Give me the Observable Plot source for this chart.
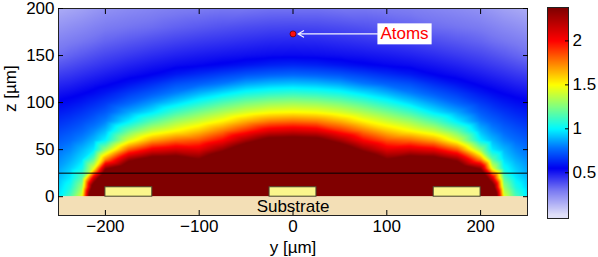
<!DOCTYPE html>
<html><head><meta charset="utf-8">
<script src="https://cdn.jsdelivr.net/npm/d3@7"></script>
<script src="https://cdn.jsdelivr.net/npm/@observablehq/plot@0.6"></script>
<style>
body{margin:0;background:#fff;}
#wrap{position:relative;width:598px;height:257px;font-family:"Liberation Sans",Arial,sans-serif;}
#main{position:absolute;left:0;top:0;}
#cbar{position:absolute;left:535px;top:0;}
</style></head><body><div id="wrap"><div id="main"></div><div id="cbar"></div></div>
<script>
// ---- data ----
const yGrid = [-250,-237.5,-225,-212.5,-200,-175,-150,-125,-100,-75,-50,-25,0,25,50,75,100,125,150,175,200,212.5,225,237.5,250];
const zGrid = [0,10,20,30,40,50,60,70,80,90,100,110,120,130,140,150,165,180,200];
// field magnitude, one row per z (bottom to top), one column per y
const field = [
 [0.98,1.15,1.45,3.0,3.5,4.0,4.0,4.0,4.0,4.2,4.4,4.5,4.5,4.5,4.4,4.2,4.0,4.0,4.0,4.0,3.5,3.0,1.45,1.15,0.98],
 [0.94,1.056,1.31,2.6,3.2,3.5,3.6,3.6,3.6,3.9,4.1,4.3,4.3,4.3,4.1,3.9,3.6,3.6,3.6,3.5,3.2,2.6,1.31,1.056,0.94],
 [0.90,0.98,1.17,2.1,2.8,3.0,3.15,3.15,3.1,3.45,3.7,3.85,3.9,3.85,3.7,3.45,3.1,3.15,3.15,3.0,2.8,2.1,1.17,0.98,0.90],
 [0.86,0.93,1.03,1.45,2.32,2.65,2.8,2.8,2.7,3.0,3.3,3.5,3.55,3.5,3.3,3.0,2.7,2.8,2.8,2.65,2.32,1.45,1.03,0.93,0.86],
 [0.82,0.874,0.955,1.18,1.71,2.28,2.48,2.5,2.37,2.65,2.95,3.15,3.2,3.15,2.95,2.65,2.37,2.5,2.48,2.28,1.71,1.18,0.955,0.874,0.82],
 [0.78,0.822,0.896,0.98,1.29,1.82,2.05,2.12,2.085,2.31,2.6,2.8,2.85,2.8,2.6,2.31,2.085,2.12,2.05,1.82,1.29,0.98,0.896,0.822,0.78],
 [0.736,0.77,0.819,0.898,1.0,1.43,1.68,1.79,1.84,2.0,2.26,2.47,2.5,2.47,2.26,2.0,1.84,1.79,1.68,1.43,1.0,0.898,0.819,0.77,0.736],
 [0.692,0.721,0.759,0.819,0.904,1.20,1.39,1.5,1.61,1.76,1.92,2.08,2.12,2.08,1.92,1.76,1.61,1.5,1.39,1.20,0.904,0.819,0.759,0.721,0.692],
 [0.647,0.672,0.705,0.75,0.809,0.988,1.17,1.31,1.41,1.52,1.66,1.76,1.79,1.76,1.66,1.52,1.41,1.31,1.17,0.988,0.809,0.75,0.705,0.672,0.647],
 [0.603,0.623,0.652,0.689,0.733,0.866,0.974,1.12,1.23,1.33,1.42,1.48,1.5,1.48,1.42,1.33,1.23,1.12,0.974,0.866,0.733,0.689,0.652,0.623,0.603],
 [0.559,0.574,0.598,0.629,0.665,0.754,0.845,0.945,1.05,1.15,1.23,1.28,1.30,1.28,1.23,1.15,1.05,0.945,0.845,0.754,0.665,0.629,0.598,0.574,0.559],
 [0.513,0.527,0.545,0.568,0.597,0.669,0.734,0.808,0.89,0.966,1.04,1.08,1.10,1.08,1.04,0.966,0.89,0.808,0.734,0.669,0.597,0.568,0.545,0.527,0.513],
 [0.468,0.481,0.50,0.518,0.536,0.584,0.642,0.71,0.747,0.797,0.865,0.90,0.915,0.90,0.865,0.797,0.747,0.71,0.642,0.584,0.536,0.518,0.50,0.481,0.468],
 [0.42,0.435,0.454,0.472,0.49,0.522,0.55,0.60,0.638,0.677,0.716,0.74,0.754,0.74,0.716,0.677,0.638,0.60,0.55,0.522,0.49,0.472,0.454,0.435,0.42],
 [0.37,0.389,0.409,0.427,0.445,0.477,0.504,0.527,0.541,0.561,0.588,0.614,0.627,0.614,0.588,0.561,0.541,0.527,0.504,0.477,0.445,0.427,0.409,0.389,0.37],
 [0.32,0.343,0.364,0.384,0.403,0.431,0.458,0.481,0.497,0.51,0.52,0.53,0.534,0.53,0.52,0.51,0.497,0.481,0.458,0.431,0.403,0.384,0.364,0.343,0.32],
 [0.272,0.288,0.304,0.32,0.341,0.367,0.391,0.413,0.431,0.444,0.457,0.469,0.473,0.469,0.457,0.444,0.431,0.413,0.391,0.367,0.341,0.32,0.304,0.288,0.272],
 [0.224,0.24,0.255,0.273,0.29,0.308,0.324,0.347,0.364,0.38,0.393,0.403,0.406,0.403,0.393,0.38,0.364,0.347,0.324,0.308,0.29,0.273,0.255,0.24,0.224],
 [0.16,0.175,0.19,0.21,0.23,0.25,0.265,0.28,0.29,0.30,0.30,0.31,0.31,0.31,0.30,0.30,0.29,0.28,0.265,0.25,0.23,0.21,0.19,0.175,0.16]
];
const colorStops = [0.02, 0.3, 0.55, 0.78, 1.0, 1.25, 1.5, 1.75, 2.0, 2.37];
const colorRange = ["#e0e0f8","#7878f2","#0000f0","#0070ff","#00f8ff","#80ff80","#ffff00","#ff8000","#ff0000","#800000"];
const yTicks = [-200,-100,0,100,200];
const zTicks = [0,50,100,150,200];
const cbarTicks = [0.5,1,1.5,2];
const electrodeLeft = [-200,-25,150];
const electrodeRight = [-150,25,200];
const electrodeTop = 10;
const substrateTop = 0;
const lineZ = 25;
const atomY = 0, atomZ = 173;
const atomLabel = "Atoms";
const atomLabelY = 90, atomLabelZ = 173;
const xTitle = "y [µm]", yTitle = "z [µm]", substrateLabel = "Substrate";
const yDomain = [-250, 250], zDomain = [-20, 200], cbarDomain = [-0.02, 2.38];

// ---- build ----
const points = [];
zGrid.forEach((z, i) => yGrid.forEach((y, j) => points.push({y, z, v: field[i][j]})));
const electrodes = electrodeLeft.map((l, i) => ({l, r: electrodeRight[i]}));
const color = {type: "linear", domain: colorStops, range: colorRange, interpolate: "rgb", clamp: true};
const fmt = d => d < 0 ? "\u2212" + Math.abs(d) : String(d);
const font = {fontFamily: "'Liberation Sans', Arial, sans-serif", fontSize: "17px", color: "black", background: "transparent"};

const main = Plot.plot({
  width: 540, height: 257, marginLeft: 58, marginRight: 13, marginTop: 8, marginBottom: 42,
  style: font,
  x: {domain: yDomain, label: null},
  y: {domain: zDomain, label: null},
  color,
  marks: [
    Plot.raster(points, {x: "y", y: "z", fill: "v", interpolate: "barycentric",
      x1: yDomain[0], x2: yDomain[1], y1: substrateTop, y2: zDomain[1]}),
    Plot.rect([substrateLabel], {x1: yDomain[0], x2: yDomain[1], y1: zDomain[0], y2: substrateTop, fill: "#f3dfb6"}),
    Plot.rect(electrodes, {x1: "l", x2: "r", y1: substrateTop, y2: electrodeTop, fill: "#fbf68c", stroke: "#4a4a30", strokeWidth: 1}),
    Plot.ruleY([lineZ], {stroke: "black", strokeWidth: 1}),
    Plot.text([substrateLabel], {x: 0, y: (zDomain[0] + substrateTop) / 2, text: d => d, fill: "black"}),
    Plot.arrow([atomLabel], {x1: atomLabelY, y1: atomLabelZ, x2: atomY, y2: atomZ, stroke: "#f4f4ff", strokeWidth: 1.2, headLength: 8, insetEnd: 5}),
    Plot.dot([atomLabel], {x: atomY, y: atomZ, r: 3, fill: "#ff1010", stroke: "#700000", strokeWidth: 0.8}),
    Plot.text([atomLabel], {x: atomLabelY, y: atomLabelZ, text: d => d, textAnchor: "start", dx: 3, fill: "#ff0000", className: "atoms-label"}),
    Plot.frame({stroke: "#222"}),
    Plot.axisX(yTicks, {tickSize: 0, tickPadding: 4, tickFormat: fmt, label: null}),
    Plot.axisX(yTicks, {tickSize: -5, fill: "none", label: null}),
    Plot.axisX(yTicks, {anchor: "top", tickSize: -5, fill: "none", label: null}),
    Plot.axisY(zTicks, {tickSize: 0, tickPadding: 4, tickFormat: fmt, label: null}),
    Plot.axisY(zTicks, {tickSize: -5, fill: "none", label: null}),
    Plot.axisY(zTicks, {anchor: "right", tickSize: -5, fill: "none", label: null}),
    Plot.text([xTitle], {frameAnchor: "bottom", lineAnchor: "middle", dy: 32, text: d => d, fill: "black"}),
    Plot.text([yTitle], {frameAnchor: "left", lineAnchor: "middle", dx: -48, rotate: -90, text: d => d, fill: "black"})
  ]
});
document.getElementById("main").appendChild(main);

// white box behind the Atoms label
const t = main.querySelector(".atoms-label text");
if (t) {
  const b = t.getBBox();
  const rect = document.createElementNS("http://www.w3.org/2000/svg", "rect");
  rect.setAttribute("x", b.x - 3); rect.setAttribute("y", b.y - 1);
  rect.setAttribute("width", b.width + 6); rect.setAttribute("height", b.height + 2);
  rect.setAttribute("fill", "white");
  const tr = t.getAttribute("transform");
  if (tr) rect.setAttribute("transform", tr);
  t.parentNode.insertBefore(rect, t);
}

const cbar = Plot.plot({
  width: 63, height: 257, marginLeft: 12, marginRight: 30, marginTop: 7, marginBottom: 39,
  style: font,
  x: {domain: [0, 1], axis: null},
  y: {domain: cbarDomain, label: null},
  color,
  marks: [
    Plot.raster({fill: (x, y) => y, x1: 0, x2: 1, y1: cbarDomain[0], y2: cbarDomain[1]}),
    Plot.frame({stroke: "#222"}),
    Plot.axisY(cbarTicks, {anchor: "right", tickSize: 0, tickPadding: 4, tickFormat: d => String(d), label: null}),
    Plot.axisY(cbarTicks, {anchor: "right", tickSize: -4, fill: "none", label: null})
  ]
});
document.getElementById("cbar").appendChild(cbar);
</script></body></html>
